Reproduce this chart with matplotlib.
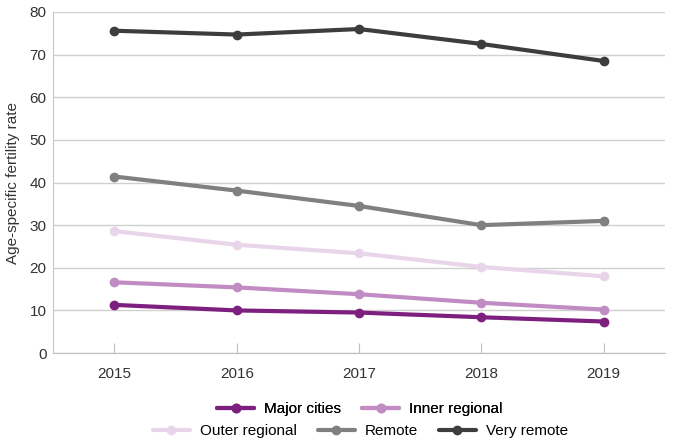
import matplotlib.pyplot as plt

plt.rcParams['font.family'] = ['Liberation Sans', 'DejaVu Sans']

years = ['2015', '2016', '2017', '2018', '2019']
major_cities = [11.3, 10.0, 9.5, 8.4, 7.4]
inner_regional = [16.6, 15.4, 13.8, 11.8, 10.2]
outer_regional = [28.6, 25.4, 23.4, 20.2, 18.0]
remote = [41.4, 38.1, 34.5, 30.0, 31.0]
very_remote = [75.6, 74.7, 76.0, 72.5, 68.5]

series = [
    ('Major cities', major_cities, '#7d1f7e'),
    ('Inner regional', inner_regional, '#c08cc3'),
    ('Outer regional', outer_regional, '#e9d5ea'),
    ('Remote', remote, '#808080'),
    ('Very remote', very_remote, '#3d3d3d'),
]

fig = plt.figure(figsize=(6.75, 4.43), dpi=100)
ax = fig.add_axes([0.079, 0.203, 0.906, 0.770])

x = range(len(years))
handles = []
for name, vals, col in series:
    h, = ax.plot(x, vals, color=col, lw=3, marker='o', ms=6, label=name,
                 solid_capstyle='round', zorder=3)
    handles.append(h)

ax.set_xlim(-0.5, 4.5)
ax.set_ylim(0, 80)
ax.set_yticks(range(0, 81, 10))
ax.set_xticks(list(x))
ax.set_xticklabels(years)
ax.grid(axis='y', color='#d0d0d0', lw=1)
ax.set_axisbelow(True)
for s in ['top', 'right']:
    ax.spines[s].set_visible(False)
ax.spines['left'].set_color('#c8c8c8')
ax.spines['bottom'].set_color('#c0c0c0')
ax.tick_params(axis='y', length=0, labelsize=11, colors='#333333', pad=5)
ax.tick_params(axis='x', direction='in', length=7, color='#c0c0c0',
               labelsize=11, labelcolor='#333333', pad=10)
ax.set_ylabel('Age-specific fertility rate', fontsize=11, color='#333333')
ax.yaxis.set_label_coords(-0.055, 0.5)

kw = dict(loc='center', frameon=False, fontsize=11, handlelength=2.4,
          columnspacing=1.4, handletextpad=0.65)
leg1 = fig.legend(handles=handles[:2], bbox_to_anchor=(0.533, 0.077), ncol=2, **kw)
fig.legend(handles=handles[2:], bbox_to_anchor=(0.534, 0.027), ncol=3, **kw)
fig.add_artist(leg1)

fig.savefig('out.png', dpi=100)
